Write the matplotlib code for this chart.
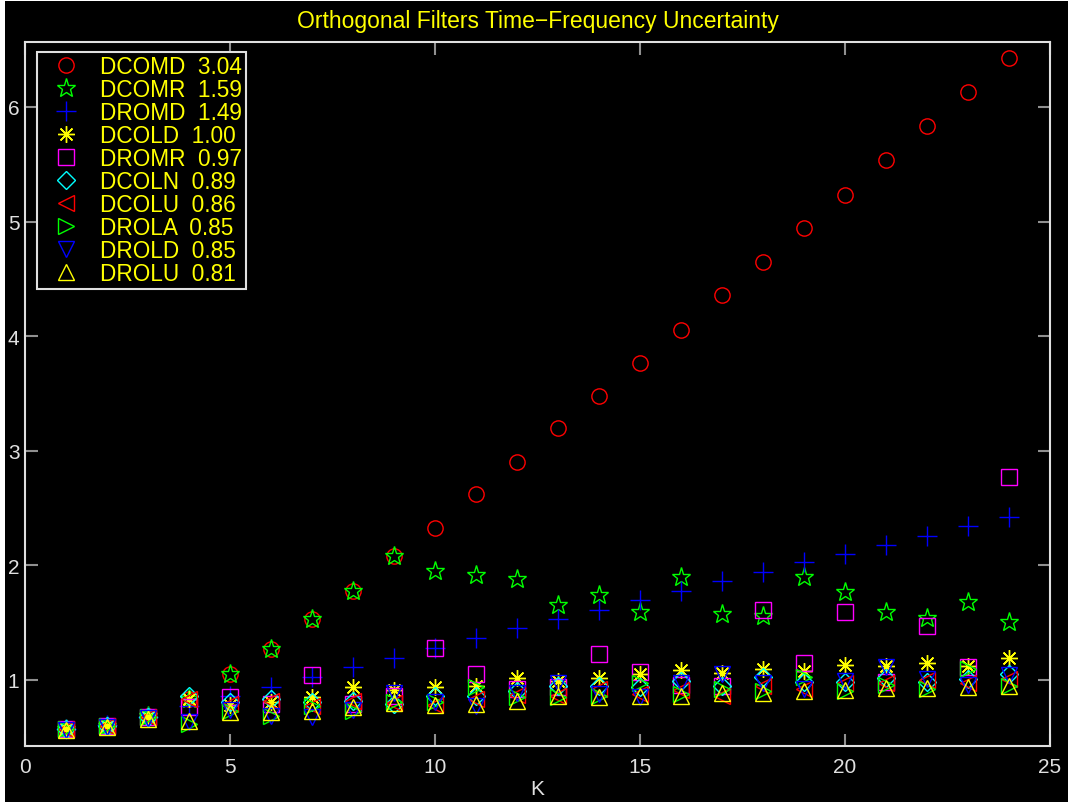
import matplotlib
matplotlib.use("Agg")
import matplotlib.pyplot as plt
import numpy as np

# ---- data ----
K = np.arange(1, 25)

dcomd = [0.57, 0.60, 0.69, 0.83, 1.05, 1.27, 1.53, 1.78, 2.08, 2.33, 2.62, 2.90,
         3.20, 3.48, 3.77, 4.05, 4.36, 4.65, 4.94, 5.23, 5.54, 5.83, 6.13, 6.43]
dcomr = [0.57, 0.60, 0.69, 0.83, 1.05, 1.27, 1.53, 1.78, 2.08, 1.95, 1.92, 1.88,
         1.65, 1.74, 1.59, 1.90, 1.58, 1.56, 1.90, 1.77, 1.59, 1.54, 1.68, 1.51]
dromd = [0.57, 0.61, 0.68, 0.77, 0.86, 0.94, 1.03, 1.11, 1.19, 1.28, 1.37, 1.45,
         1.53, 1.61, 1.70, 1.78, 1.86, 1.94, 2.03, 2.10, 2.18, 2.26, 2.34, 2.42]
dcold = [0.57, 0.60, 0.68, 0.83, 0.78, 0.81, 0.85, 0.94, 0.91, 0.94, 0.95, 1.02,
         0.99, 1.02, 1.05, 1.09, 1.06, 1.10, 1.08, 1.13, 1.12, 1.15, 1.12, 1.19]
dromr = [0.57, 0.60, 0.68, 0.76, 0.85, 0.79, 1.04, 0.79, 0.86, 1.28, 1.05, 0.92,
         0.94, 1.23, 1.07, 0.96, 0.95, 1.61, 1.15, 1.59, 0.98, 1.47, 1.11, 2.77]
dcoln = [0.57, 0.60, 0.68, 0.86, 0.81, 0.83, 0.81, 0.82, 0.79, 0.86, 0.86, 0.90,
         0.95, 0.95, 0.94, 0.99, 0.95, 1.03, 0.98, 0.98, 1.02, 0.98, 1.01, 1.05]
dcolu = [0.57, 0.60, 0.68, 0.83, 0.79, 0.82, 0.77, 0.82, 0.80, 0.78, 0.83, 0.87,
         0.86, 0.92, 0.88, 0.91, 0.86, 0.95, 0.92, 0.97, 0.97, 1.00, 0.97, 1.01]
drola = [0.57, 0.60, 0.68, 0.62, 0.73, 0.69, 0.77, 0.73, 0.81, 0.81, 0.94, 0.85,
         0.85, 0.86, 0.97, 0.88, 0.92, 0.90, 1.03, 0.90, 0.96, 0.92, 1.10, 0.95]
drold = [0.56, 0.59, 0.67, 0.63, 0.74, 0.69, 0.68, 0.74, 0.89, 0.81, 0.77, 0.89,
         0.97, 0.88, 0.85, 0.97, 1.05, 0.97, 0.92, 0.99, 1.11, 1.01, 0.96, 1.04]
drolu = [0.56, 0.59, 0.66, 0.64, 0.72, 0.72, 0.73, 0.76, 0.80, 0.78, 0.79, 0.82,
         0.86, 0.85, 0.86, 0.86, 0.89, 0.89, 0.90, 0.91, 0.93, 0.93, 0.94, 0.95]

labels = ["DCOMD  3.04", "DCOMR  1.59", "DROMD  1.49", "DCOLD  1.00", "DROMR  0.97",
          "DCOLN  0.89", "DCOLU  0.86", "DROLA  0.85", "DROLD  0.85", "DROLU  0.81"]
series = [dcomd, dcomr, dromd, dcold, dromr, dcoln, dcolu, drola, drold, drolu]
markers = ["o", "p", "+", "x*", "s", "D", "<", ">", "v", "^"]
colors = ["#ff0000", "#00ff00", "#0000ff", "#ffff00", "#ff00ff",
          "#00ffff", "#ff0000", "#00ff00", "#0000ff", "#ffff00"]

plt.rcParams['font.family'] = ['Liberation Sans', 'DejaVu Sans']

fig = plt.figure(figsize=(10.68, 8.03), dpi=100, facecolor="white")
# black canvas, leaving the thin white strip on the left/top like the screenshot
fig.patches.append(plt.Rectangle((5 / 1068, 0), 1, 1 - 2 / 803, transform=fig.transFigure,
                                 facecolor="black", edgecolor="none", zorder=-10))
ax = fig.add_axes([25 / 1068, 56 / 803, 1025 / 1068, 704 / 803])
ax.set_facecolor("black")

mew = 1.0
for ys, m, c, lab in zip(series, markers, colors, labels):
    if m == "p":
        # pentagram: outlined star
        ax.plot(K, ys, linestyle="none", marker="*", markersize=14, markerfacecolor="none",
                markeredgecolor=c, markeredgewidth=mew, label=lab)
    elif m == "x*":
        # 8-spoke asterisk
        ax.plot(K, ys, linestyle="none", marker=(8, 2, 0), markersize=12, color=c,
                markeredgewidth=mew, label=lab)
    elif m == "+":
        ax.plot(K, ys, linestyle="none", marker="+", markersize=14, color=c,
                markeredgewidth=mew, label=lab)
    else:
        ms = 9 if m == "D" else 11
        ax.plot(K, ys, linestyle="none", marker=m, markersize=ms, markerfacecolor="none",
                markeredgecolor=c, markeredgewidth=mew, label=lab)

ax.set_xlim(0, 25)
ax.set_ylim(0.424, 6.567)
ax.set_xticks([0, 5, 10, 15, 20, 25])
ax.set_yticks([1, 2, 3, 4, 5, 6])

for s in ax.spines.values():
    s.set_color("#e0e0e0")
    s.set_linewidth(1.5)
ax.tick_params(direction="in", length=9, width=1.5, color="#909090",
               labelcolor="#e0e0e0", labelsize=15, top=True, right=True)
ax.tick_params(axis="x", pad=8)
ax.tick_params(axis="y", pad=4)

ax.set_xlabel("K", color="#e0e0e0", fontsize=15, labelpad=2)
ax.set_title("Orthogonal Filters Time\u2212Frequency Uncertainty", color="#ffff00",
             fontsize=16.5, pad=11)

leg = ax.legend(loc="upper left", bbox_to_anchor=(12 / 1025, 1 - 10 / 704), borderaxespad=0,
                fontsize=16.3, frameon=True, fancybox=False, handlelength=2.3,
                handletextpad=0.35, labelspacing=0.0, borderpad=0.15, markerscale=1.0)
leg.get_frame().set_facecolor("black")
leg.get_frame().set_edgecolor("#e0e0e0")
leg.get_frame().set_linewidth(1.5)
leg.get_frame().set_alpha(1)
for t in leg.get_texts():
    t.set_color("#ffff00")

fig.savefig("out.png", dpi=100, facecolor=fig.get_facecolor())
